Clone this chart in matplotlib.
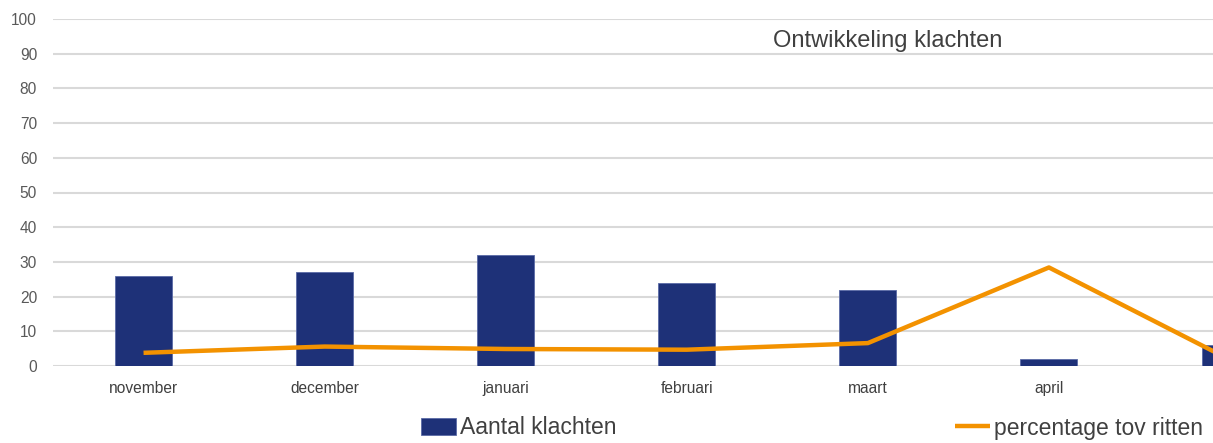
import matplotlib
matplotlib.use("Agg")
import matplotlib.pyplot as plt
import numpy as np

categories = ["november", "december", "januari", "februari", "maart", "april", ""]
aantal_klachten = [26, 27, 32, 24, 22, 2, 6]
percentage_tov_ritten = [3.8, 5.6, 4.9, 4.7, 6.6, 28.4, 1.8]
yticks = list(range(0, 101, 10))

plt.rcParams['font.family'] = ['Liberation Sans', 'DejaVu Sans']

fig = plt.figure(figsize=(12.13, 4.43), dpi=100)
ax = fig.add_axes([53/1213, 77/443, 1 - 53/1213, 347/443])

x = np.arange(len(categories))
bars = ax.bar(x, aantal_klachten, width=0.315, color="#1e3178", zorder=3,
              edgecolor="#5a6aa6", linewidth=0.6, label="Aantal klachten")
line, = ax.plot(x, percentage_tov_ritten, color="#f39200", linewidth=3.2,
                zorder=4, label="percentage tov ritten", solid_capstyle="butt")

ax.set_xlim(-0.5, 5.906)
ax.set_ylim(0, 100)
ax.set_yticks(yticks)
ax.set_yticklabels([str(v) for v in yticks], fontsize=11.2, color="#595959")
ax.set_xticks(x[:6])
ax.set_xticklabels(categories[:6], fontsize=11.2, color="#404040")
ax.tick_params(axis="both", length=0)
ax.tick_params(axis="y", pad=11.5)
ax.tick_params(axis="x", pad=11)
ax.grid(axis="y", color="#d9d9d9", linewidth=1.5, zorder=0)
for s in ax.spines.values():
    s.set_visible(False)

fig.text(888/1213, 1 - 41/443, "Ontwikkeling klachten", fontsize=17,
         color="#404040", ha="center", va="center")

fig.legend(handles=[bars], loc="center left",
           bbox_to_anchor=(421/1213, 1 - 428/443), frameon=False,
           borderaxespad=0, borderpad=0,
           fontsize=16.5, handlelength=1.53, handleheight=0.75,
           handletextpad=0.18, labelcolor="#404040")
fig.legend(handles=[line], loc="center left",
           bbox_to_anchor=(955/1213, 1 - 428/443), frameon=False,
           borderaxespad=0, borderpad=0,
           fontsize=16.5, handlelength=1.53, handletextpad=0.18,
           labelcolor="#404040")

fig.savefig("out.png", dpi=100)
